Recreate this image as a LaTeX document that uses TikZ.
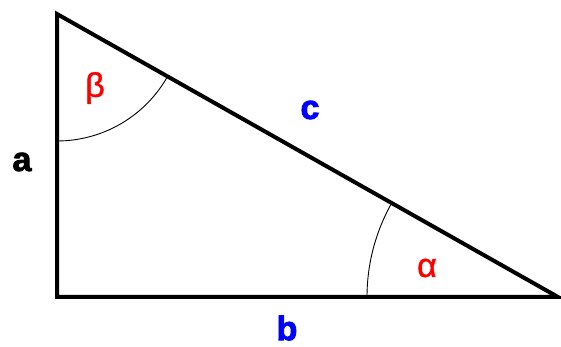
\documentclass[tikz,border=0pt]{standalone}
\usepackage{fontspec}
\setmainfont{Liberation Sans}
\newfontfamily\heavyfont[FakeBold=2.5]{Liberation Sans Bold}
\newfontfamily\greekfont[FakeBold=1.2]{Liberation Sans}
\begin{document}
\begin{tikzpicture}[x=1pt,y=1pt,
  side/.style={line width=4pt,line join=miter},
  anglearc/.style={line width=0.9pt},
  lbl/.style={font=\fontsize{34}{34}\heavyfont,inner sep=0pt},
  greek/.style={font=\fontsize{34}{34}\greekfont,text=red,inner sep=0pt}]
\useasboundingbox (0,0) rectangle (561,347);
\clip (0,0) rectangle (561,347);
\coordinate (B) at (57,333);
\coordinate (C) at (57,50);
\coordinate (A) at (558,50);
\draw[side] (B) -- (C) -- (A) -- cycle;
\draw[anglearc] (B) ++(-90:127) arc[start angle=-90,end angle=-29.4,radius=127];
\draw[anglearc] (A) ++(180:191) arc[start angle=180,end angle=150.6,radius=191];
\node[lbl,text=black] (la) at (22,185) {a};
\node[lbl,text=blue] (lb) at (287,19) {b};
\node[lbl,text=blue] (lc) at (310,237) {c};
\node[greek] (lbeta) at (95,259) {β};
\node[greek] (lalpha) at (427,79) {α};
\end{tikzpicture}
\end{document}
